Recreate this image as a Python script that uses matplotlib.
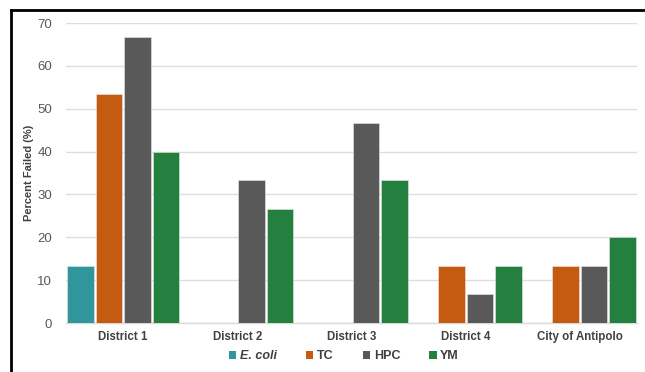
import numpy as np
import matplotlib.pyplot as plt
from matplotlib.patches import Patch
from matplotlib.lines import Line2D

plt.rcParams['font.family'] = ['Liberation Sans', 'DejaVu Sans']

# data
categories = ['District 1', 'District 2', 'District 3', 'District 4', 'City of Antipolo']
series_names = ['E. coli', 'TC', 'HPC', 'YM']
ecoli = [13.33, 0, 0, 0, 0]
tc = [53.33, 0, 0, 13.33, 13.33]
hpc = [66.67, 33.33, 46.67, 6.67, 13.33]
ym = [40.0, 26.67, 33.33, 13.33, 20.0]
colors = ['#31959C', '#C55A11', '#595959', '#23803E']

fig = plt.figure(figsize=(6.45, 3.72), dpi=100)
ax = fig.add_axes([66 / 645, 1 - 323 / 372, (637 - 66) / 645, 300 / 372])

x = np.arange(len(categories))
width = 0.232
offsets = [-0.375, -0.125, 0.125, 0.375]
for vals, off, c in zip([ecoli, tc, hpc, ym], offsets, colors):
    ax.bar(x + off, vals, width, color=c, edgecolor='#e8e8e8', linewidth=0.4, zorder=3)

ax.set_xlim(-0.5, 4.5)
ax.set_ylim(0, 70)
ax.set_yticks(range(0, 71, 10))
ax.yaxis.grid(True, color='#DEDEDE', linewidth=1, zorder=0)
for s in ['top', 'right', 'left']:
    ax.spines[s].set_visible(False)
ax.spines['bottom'].set_color('#D9D9D9')
ax.spines['bottom'].set_linewidth(1)
ax.tick_params(axis='both', length=0)
ax.tick_params(axis='y', labelsize=9.5, labelcolor='#595959', pad=10)
ax.set_xticks(x)
ax.set_xticklabels(categories, fontsize=8.3, fontweight='bold', color='#404040')
ax.tick_params(axis='x', pad=6)
ax.set_ylabel('Percent Failed (%)', fontsize=8, fontweight='bold', color='#404040', labelpad=2)

handles = [Patch(facecolor=c, edgecolor='none') for c in colors]
leg = fig.legend(handles, series_names, loc='center', bbox_to_anchor=(344 / 645, 1 - 356 / 372),
                 ncol=4, frameon=False, handlelength=0.6, handleheight=0.6, handletextpad=0.3,
                 columnspacing=2.3, fontsize=9)
for t in leg.get_texts():
    t.set_fontweight('bold')
    t.set_color('#404040')
leg.get_texts()[0].set_fontstyle('italic')

# black frame at the left and top of the image
fig.add_artist(Line2D([10.5 / 645, 10.5 / 645], [0, 1 - 10 / 372], color='black', linewidth=2,
                      transform=fig.transFigure))
fig.add_artist(Line2D([10.5 / 645, 1], [1 - 10 / 372, 1 - 10 / 372], color='black', linewidth=2,
                      transform=fig.transFigure))

fig.savefig('out.png', dpi=100)
